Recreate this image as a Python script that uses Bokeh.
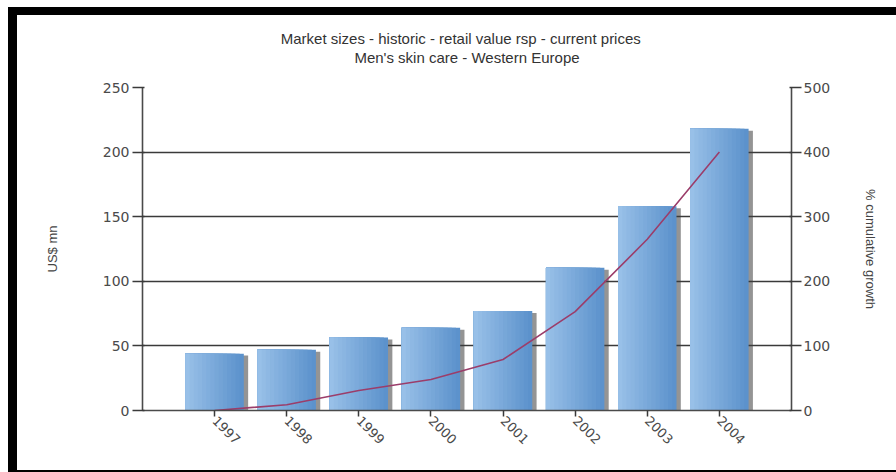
from math import pi
from bokeh.plotting import figure, ColumnDataSource
from bokeh.models import Range1d, LinearAxis, FixedTicker, Title
from bokeh.layouts import column
from bokeh.transform import dodge
from bokeh.embed import file_html
from bokeh.resources import INLINE

# ---- data ----
years = ["1997", "1998", "1999", "2000", "2001", "2002", "2003", "2004"]
market_size = [44, 47, 56.5, 64, 77, 110.5, 158, 218]          # US$ mn (left axis)
cumulative_growth = [0, 9, 31, 48, 79, 153, 265, 400]          # % (right axis)
left_ticks = [0, 50, 100, 150, 200, 250]
right_ticks = [0, 100, 200, 300, 400, 500]
title_lines = ["Market sizes  - historic  - retail value rsp  - current prices",
               "Men's skin care - Western Europe"]

xs = [int(y) for y in years]
src = ColumnDataSource(dict(x=xs, top=market_size, g=cumulative_growth))

TICK_FONT = "DejaVu Sans"
TEXT_FONT = "Liberation Sans"

p = figure(width=879, height=455,
           x_range=Range1d(1996, 2005), y_range=Range1d(0, 250),
           output_backend="svg", toolbar_location=None,
           min_border_left=125, min_border_right=105,
           min_border_top=72, min_border_bottom=60,
           background_fill_color="white", border_fill_color="white",
           outline_line_color=None, title=None)
p.extra_y_ranges = {"growth": Range1d(0, 500)}

# title: an empty spacer next to the frame, then two centred lines
p.add_layout(Title(text=" ", text_font=TEXT_FONT, text_font_size="15px", standoff=3), "above")
for line in reversed(title_lines):
    p.add_layout(Title(text=line, align="center", text_font=TEXT_FONT,
                       text_font_size="15px", text_font_style="normal",
                       text_color="#333333", standoff=0), "above")

# grid
p.xgrid.visible = False
p.ygrid.ticker = FixedTicker(ticks=left_ticks)
p.ygrid.grid_line_color = "#3a3a3a"
p.ygrid.grid_line_width = 1.6

# bars: shadow then gradient made of layered bars
W = 0.81
p.vbar(x=dodge("x", 0.06, range=p.x_range), top=dodge("top", -1.5), bottom=-2,
       width=W, source=src, fill_color="#3c3c3c", fill_alpha=0.55, line_color=None)
N = 14
c0 = (0x5c, 0x92, 0xcc)   # right (dark)
c1 = (0x98, 0xc0, 0xe8)   # left (light)
for k in range(N):
    t = k / (N - 1)
    col = "#%02x%02x%02x" % tuple(int(a + (b - a) * t) for a, b in zip(c0, c1))
    wk = W * (1 - k / N)
    p.vbar(x=dodge("x", -W / 2 + wk / 2, range=p.x_range), top="top", bottom=0,
           width=wk, source=src, fill_color=col, line_color=None)

# growth line
p.line("x", "g", source=src, y_range_name="growth", line_color="#9b3d6a", line_width=1.6)

# axes
def style_axis(ax):
    ax.axis_line_color = "#4a4a4a"
    ax.axis_line_width = 1.6
    ax.major_tick_line_color = "#3a3a3a"
    ax.major_tick_line_width = 1.5
    ax.minor_tick_line_color = None
    ax.major_label_text_font = TICK_FONT
    ax.major_label_text_font_size = "14px"
    ax.major_label_text_color = "#4a4a4a"
    ax.axis_label_text_font = TEXT_FONT
    ax.axis_label_text_font_size = "13px"
    ax.axis_label_text_font_style = "normal"
    ax.axis_label_text_color = "#444444"

ya = p.yaxis[0]
ya.ticker = FixedTicker(ticks=left_ticks)
ya.axis_label = "US$ mn"
ya.major_tick_out = 10
ya.major_tick_in = 2
ya.major_label_standoff = 3
ya.axis_label_standoff = 40
style_axis(ya)

ra = LinearAxis(y_range_name="growth", ticker=FixedTicker(ticks=right_ticks),
                axis_label="% cumulative growth")
ra.major_tick_out = 10
ra.major_tick_in = 2
ra.major_label_standoff = 2
ra.axis_label_standoff = 30
style_axis(ra)
p.add_layout(ra, "right")

xa = p.xaxis[0]
xa.ticker = FixedTicker(ticks=xs)
xa.major_label_overrides = {x: y for x, y in zip(xs, years)}
xa.major_label_orientation = -pi / 4
xa.major_tick_out = 6
xa.major_tick_in = 0
xa.major_label_standoff = 2
style_axis(xa)
xa.major_label_text_font_size = "13px"

# black frame (left, top and a thin bottom edge) around the picture
page = column(p, styles={"margin-left": "8px", "margin-top": "7px",
                         "border-left": "9px solid black",
                         "border-top": "8px solid black",
                         "border-bottom": "2px solid black",
                         "background": "white"})

open("out.html", "w").write(file_html(page, INLINE))
